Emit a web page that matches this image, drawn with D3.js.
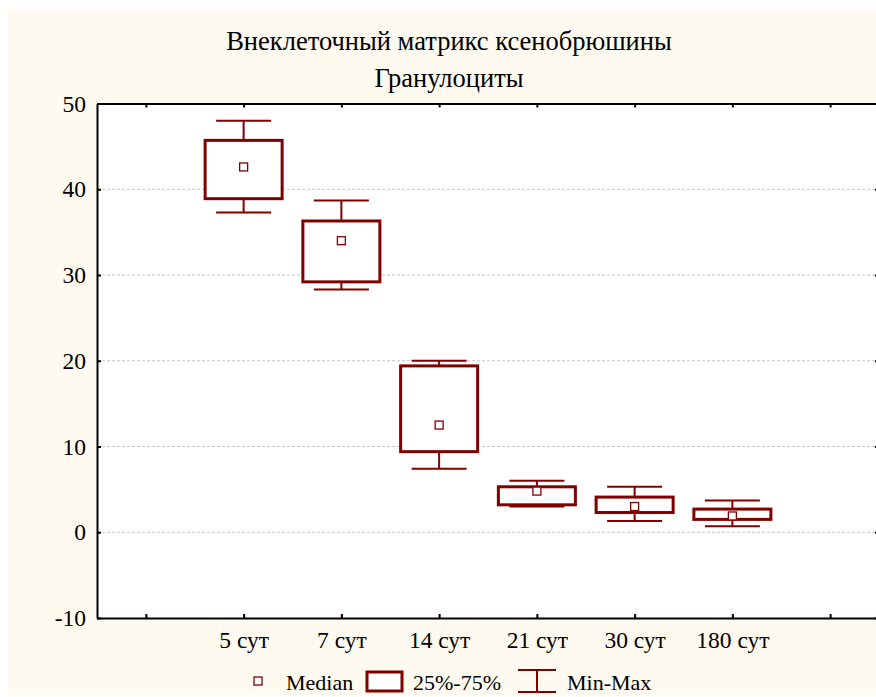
<!DOCTYPE html>
<html>
<head>
<meta charset="utf-8">
<script src="https://cdn.jsdelivr.net/npm/d3@7"></script>
<style>
  body { margin: 0; background: #ffffff; }
  svg text { font-family: "Liberation Serif", "Times New Roman", Tinos, "DejaVu Serif", serif; fill: #000; }
</style>
</head>
<body>
<div id="canvas"></div>
<script>
var w = 876;
var h = 697;
var red = "#800000";
var serif = "'Liberation Serif', 'Times New Roman', Tinos, 'DejaVu Serif', serif";

// data
var categories = ["5 сут", "7 сут", "14 сут", "21 сут", "30 сут", "180 сут"];
var minVals = [37.3, 28.3, 7.4, 3.0, 1.3, 0.7];
var q1Vals = [38.9, 29.2, 9.4, 3.2, 2.3, 1.5];
var medianVals = [42.6, 34.0, 12.5, 4.8, 3.0, 1.9];
var q3Vals = [45.7, 36.3, 19.4, 5.3, 4.1, 2.7];
var maxVals = [48.0, 38.7, 20.0, 6.0, 5.3, 3.7];
var yTicks = [-10, 0, 10, 20, 30, 40, 50];
var titleLines = ["Внеклеточный матрикс ксенобрюшины", "Гранулоциты"];
var legendLabels = ["Median", "25%-75%", "Min-Max"];

var plotL = 97, plotR = 879, plotT = 103.5, plotB = 618;

var svg = d3.select("#canvas")
    .append("svg")
    .attr("width", w)
    .attr("height", h);

// cream background and white plot area
svg.append("rect")
    .attr("x", 8).attr("y", 10)
    .attr("width", w - 8).attr("height", 685)
    .attr("fill", "#fefaf0");

svg.append("rect")
    .attr("x", plotL).attr("y", plotT)
    .attr("width", plotR - plotL).attr("height", plotB - plotT)
    .attr("fill", "#ffffff");

var xScale = d3.scaleLinear()
    .domain([-1.5, categories.length + 0.5])
    .range([plotL, plotR]);

var yScale = d3.scaleLinear()
    .domain([-10, 50])
    .range([plotB, plotT]);

// grid lines
svg.selectAll(".grid")
    .data(yTicks.filter(function (t) { return t > -10 && t < 50; }))
    .join("line")
    .attr("class", "grid")
    .attr("x1", plotL).attr("x2", plotR)
    .attr("y1", function (d) { return yScale(d); })
    .attr("y2", function (d) { return yScale(d); })
    .attr("stroke", "#c4c4c4")
    .attr("stroke-width", 1)
    .attr("stroke-dasharray", "3,2");

var xTickVals = d3.range(-1, categories.length + 1);

// axes
svg.append("g")
    .attr("transform", "translate(" + plotL + ",0)")
    .call(d3.axisLeft(yScale).tickValues(yTicks).tickSizeInner(-4).tickSizeOuter(0).tickPadding(11)
        .tickFormat(function (d) { return String(d); }));

svg.append("g")
    .attr("transform", "translate(" + plotR + ",0)")
    .call(d3.axisRight(yScale).tickValues(yTicks).tickSizeInner(-4).tickSizeOuter(0).tickFormat(""));

svg.append("g")
    .attr("transform", "translate(0," + plotB + ")")
    .call(d3.axisBottom(xScale).tickValues(xTickVals).tickSizeInner(-4).tickSizeOuter(0)
        .tickPadding(13)
        .tickFormat(function (d) { return categories[d] || ""; }));

svg.append("g")
    .attr("transform", "translate(0," + plotT + ")")
    .call(d3.axisTop(xScale).tickValues(xTickVals).tickSizeInner(-4).tickSizeOuter(0).tickFormat(""));

svg.selectAll("g").attr("font-family", serif);
svg.selectAll(".domain").attr("stroke", "#000").attr("stroke-width", 2);
svg.selectAll(".tick line").attr("stroke", "#000").attr("stroke-width", 2);
svg.selectAll(".tick text")
    .attr("font-family", serif)
    .attr("font-size", "23.5px")
    .attr("fill", "#000");

// boxes
var idx = d3.range(categories.length);
var boxW = 77, capW = 55;

svg.selectAll(".whisker")
    .data(idx)
    .join("line")
    .attr("class", "whisker")
    .attr("x1", function (i) { return xScale(i); })
    .attr("x2", function (i) { return xScale(i); })
    .attr("y1", function (i) { return yScale(minVals[i]); })
    .attr("y2", function (i) { return yScale(maxVals[i]); })
    .attr("stroke", red).attr("stroke-width", 2);

svg.selectAll(".capMax")
    .data(idx)
    .join("line")
    .attr("class", "capMax")
    .attr("x1", function (i) { return xScale(i) - capW / 2; })
    .attr("x2", function (i) { return xScale(i) + capW / 2; })
    .attr("y1", function (i) { return yScale(maxVals[i]); })
    .attr("y2", function (i) { return yScale(maxVals[i]); })
    .attr("stroke", red).attr("stroke-width", 2);

svg.selectAll(".capMin")
    .data(idx)
    .join("line")
    .attr("class", "capMin")
    .attr("x1", function (i) { return xScale(i) - capW / 2; })
    .attr("x2", function (i) { return xScale(i) + capW / 2; })
    .attr("y1", function (i) { return yScale(minVals[i]); })
    .attr("y2", function (i) { return yScale(minVals[i]); })
    .attr("stroke", red).attr("stroke-width", 2);

svg.selectAll(".box")
    .data(idx)
    .join("rect")
    .attr("class", "box")
    .attr("x", function (i) { return xScale(i) - boxW / 2; })
    .attr("y", function (i) { return yScale(q3Vals[i]); })
    .attr("width", boxW)
    .attr("height", function (i) { return yScale(q1Vals[i]) - yScale(q3Vals[i]); })
    .attr("fill", "#ffffff")
    .attr("stroke", red).attr("stroke-width", 3);

svg.selectAll(".median")
    .data(idx)
    .join("rect")
    .attr("class", "median")
    .attr("x", function (i) { return xScale(i) - 4; })
    .attr("y", function (i) { return yScale(medianVals[i]) - 4; })
    .attr("width", 8).attr("height", 8)
    .attr("fill", "#ffffff")
    .attr("stroke", red).attr("stroke-width", 1.3);

// title
svg.selectAll(".title")
    .data(titleLines)
    .join("text")
    .attr("class", "title")
    .attr("x", 449)
    .attr("y", function (d, i) { return 50 + i * 36.5; })
    .attr("text-anchor", "middle")
    .attr("font-family", serif)
    .attr("font-size", "26.5px")
    .text(function (d) { return d; });

// legend
var lg = svg.append("g");
lg.append("rect")
    .attr("x", 254).attr("y", 677).attr("width", 8).attr("height", 8)
    .attr("fill", "#fff").attr("stroke", red).attr("stroke-width", 1.3);
lg.append("rect")
    .attr("x", 367).attr("y", 672).attr("width", 35).attr("height", 19)
    .attr("fill", "#fff").attr("stroke", red).attr("stroke-width", 3);
lg.append("line")
    .attr("x1", 537).attr("x2", 537).attr("y1", 670).attr("y2", 692)
    .attr("stroke", red).attr("stroke-width", 2);
lg.append("line")
    .attr("x1", 518).attr("x2", 556).attr("y1", 670).attr("y2", 670)
    .attr("stroke", red).attr("stroke-width", 2);
lg.append("line")
    .attr("x1", 518).attr("x2", 556).attr("y1", 692).attr("y2", 692)
    .attr("stroke", red).attr("stroke-width", 2);

var legendX = [286, 413, 567];
lg.selectAll(".ltext")
    .data(legendLabels)
    .join("text")
    .attr("class", "ltext")
    .attr("x", function (d, i) { return legendX[i]; })
    .attr("y", 690)
    .attr("font-family", serif)
    .attr("font-size", "22px")
    .text(function (d) { return d; });
</script>
</body>
</html>
